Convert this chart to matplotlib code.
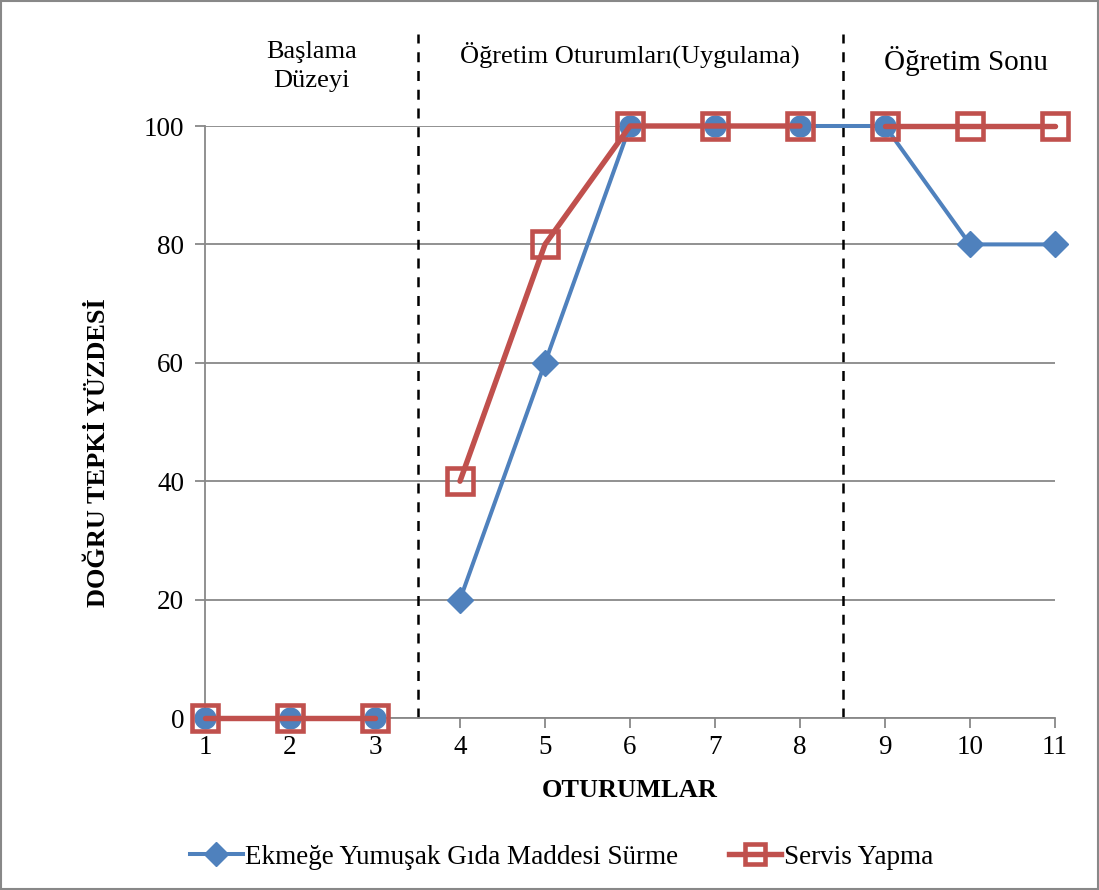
import numpy as np
import matplotlib
matplotlib.use('Agg')
import matplotlib.pyplot as plt
from matplotlib.lines import Line2D
from matplotlib.patches import Rectangle

plt.rcParams['font.family'] = ['Liberation Serif', 'DejaVu Serif']

# Data
sessions = [1, 2, 3, 4, 5, 6, 7, 8, 9, 10, 11]
ekmek = [0, 0, 0, 20, 60, 100, 100, 100, 100, 80, 80]
servis = [0, 0, 0, 40, 80, 100, 100, 100, 100, 100, 100]
phase_labels = ['Başlama\nDüzeyi', 'Öğretim Oturumları(Uygulama)', 'Öğretim Sonu']
phase_pos = [2.25, 6.0, 9.95]
phase_lines = [3.5, 8.5]
series_names = ['Ekmeğe Yumuşak Gıda Maddesi Sürme', 'Servis Yapma']

blue = '#4F81BD'
red = '#C0504D'
grid_c = '#888888'

fig = plt.figure(figsize=(10.99, 8.90), dpi=100)
ax = fig.add_axes([205 / 1099, 1 - 718 / 890, 850 / 1099, 592 / 890])

x = np.array(sessions)
e = np.array(ekmek)
s = np.array(servis)

# blue: gap between 3 and 4
for sl in [slice(0, 3), slice(3, 11)]:
    ax.plot(x[sl], e[sl], color=blue, lw=2.9, zorder=3, clip_on=False,
            solid_capstyle='round')
diamond_idx = [3, 4, 9, 10]
circle_idx = [0, 1, 2, 5, 6, 7, 8]
ax.plot(x[diamond_idx], e[diamond_idx], 'D', color=blue, ms=13.5, ls='none',
        zorder=4, clip_on=False)
ax.plot(x[circle_idx], e[circle_idx], 'o', color=blue, ms=15, ls='none',
        zorder=4, clip_on=False)

# red: gaps between 3-4 and 8-9
for sl in [slice(0, 3), slice(3, 8), slice(8, 11)]:
    ax.plot(x[sl], s[sl], color=red, lw=3.9, zorder=5, clip_on=False,
            solid_capstyle='round')
ax.plot(x, s, 's', ms=18.5, mfc='none', mec=red, mew=3.3, ls='none',
        zorder=6, clip_on=False)

# phase separators
for p in phase_lines:
    ax.plot([p, p], [0, 115.5], color='black', ls=(0, (4, 3.5)), lw=1.8,
            clip_on=False, zorder=2)

ax.text(phase_pos[0], 110.1, phase_labels[0], ha='center', va='center',
        fontsize=19, linespacing=1.4)
ax.text(phase_pos[1], 112.0, phase_labels[1], ha='center', va='center',
        fontsize=19)
ax.text(phase_pos[2], 111.0, phase_labels[2], ha='center', va='center',
        fontsize=21)

ax.set_xlim(1, 11)
ax.set_ylim(0, 100)
ax.set_xticks(sessions)
ax.set_yticks(range(0, 101, 20))
ax.tick_params(axis='both', labelsize=19.5, color=grid_c, width=1.3, length=7)
ax.tick_params(axis='x', pad=5)
ax.tick_params(axis='y', pad=8)
ax.yaxis.grid(True, color=grid_c, lw=1.3)
ax.set_axisbelow(True)
for side in ['top', 'right']:
    ax.spines[side].set_visible(False)
for side in ['left', 'bottom']:
    ax.spines[side].set_color(grid_c)
    ax.spines[side].set_linewidth(1.3)

ax.set_xlabel('OTURUMLAR', fontsize=19, fontweight='bold', labelpad=14)
ax.set_ylabel('DOĞRU TEPKİ YÜZDESİ', fontsize=19, fontweight='bold')
ax.yaxis.set_label_coords(-0.112, 0.448)

handles = [
    Line2D([], [], color=blue, lw=2.9, marker='D', ms=12),
    Line2D([], [], color=red, lw=3.9, marker='s', ms=15, mfc='none', mec=red, mew=3.3),
]
fig.legend(handles, series_names, loc='center', bbox_to_anchor=(0.511, 1 - 857 / 890),
           ncol=2, frameon=False, fontsize=19.5, handlelength=1.95, handletextpad=0.1,
           columnspacing=1.85)

fig.patches.append(Rectangle((0.001, 0.001), 0.998, 0.998, transform=fig.transFigure,
                             fill=False, edgecolor=grid_c, lw=1.5))

fig.savefig('out.png', dpi=100)
